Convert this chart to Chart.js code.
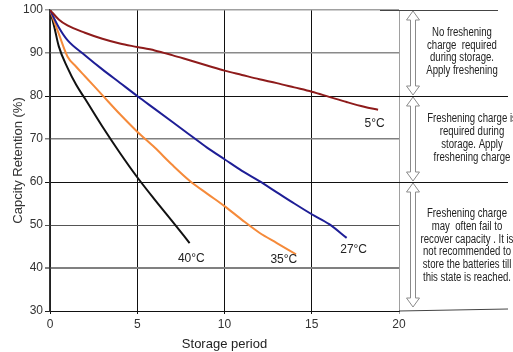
<!DOCTYPE html>
<html>
<head>
<meta charset="utf-8">
<script src="https://cdn.jsdelivr.net/npm/chart.js@4.4.1/dist/chart.umd.min.js"></script>
<style>
  html, body { margin: 0; padding: 0; background: #fff; }
  #wrap { width: 513px; height: 352px; }
</style>
</head>
<body>
<div id="wrap"><canvas id="retention-chart"></canvas></div>
<script>
// Capacity retention vs storage period
// ------------------------------
var seriesNames = ["5°C", "27°C", "35°C", "40°C"];

var days5  = [0, 0.5, 1, 2, 3, 4, 5, 6, 7, 8, 9, 10, 11, 12, 13, 14, 15, 16, 17, 18, 18.8];
var cap5   = [100, 97.8, 96.4, 94.7, 93.3, 92.2, 91.4, 90.6, 89.5, 88.3, 87.1, 85.9, 84.9, 83.9, 83, 82, 81, 79.8, 78.6, 77.5, 76.8];

var days27 = [0, 0.5, 1, 2, 3, 4, 5, 6, 7, 8, 9, 10, 11, 12, 13, 14, 15, 16, 17];
var cap27  = [100, 96, 93, 89.5, 86.2, 83.1, 80, 77, 74, 71, 68, 65.3, 62.6, 60.2, 57.6, 55, 52.5, 50.2, 47];

var days35 = [0, 0.5, 1, 1.5, 2, 3, 4, 5, 6, 7, 8, 9, 10, 11, 12, 13, 14.1];
var cap35  = [100, 94.5, 89.2, 86.8, 84.6, 80.2, 75.8, 71.7, 68, 64, 60.3, 57.3, 54.4, 51.2, 48.2, 45.8, 43.2];

var days40 = [0, 0.25, 0.5, 1, 1.5, 2, 3, 4, 5, 6, 7, 8];
var cap40  = [100, 96, 91.6, 86.6, 82.6, 79.4, 72.9, 66.8, 61.1, 55.9, 50.9, 45.8];

// where the series names sit (data units)
var labelX = [18.6, 17.4, 13.4, 8.1];
var labelY = [73.6, 44.2, 42.0, 42.2];

var seriesColors = ['#8E1B1B', '#1E1E96', '#F58A3A', '#111111'];

var xTicks = [0, 5, 10, 15, 20];
var yTicks = [30, 40, 50, 60, 70, 80, 90, 100];

var zoneNotes = [
    ["No freshening", "charge  required", "during storage.", "Apply freshening"],
    ["Freshening charge is", "required during", "storage. Apply", "freshening charge"],
    ["Freshening charge", "may  often fail to", "recover capacity . It is", "not recommended to", "store the batteries till", "this state is reached."]
];
var zoneLimits = [[100, 80], [80, 60], [60, 30]];

function pairs(xs, ys) {
    return xs.map(function (x, i) { return { x: x, y: ys[i] }; });
}

var allDays = [days5, days27, days35, days40];
var allCaps = [cap5, cap27, cap35, cap40];

var chartData = {
    datasets: seriesNames.map(function (name, i) {
        return {
            label: name,
            data: pairs(allDays[i], allCaps[i]),
            borderColor: seriesColors[i],
            borderWidth: 2,
            pointRadius: 0,
            fill: false,
            cubicInterpolationMode: 'monotone'
        };
    })
};

var gridColorY = { 30: '#222', 40: '#808080', 50: '#555', 60: '#111', 70: '#808080', 80: '#111', 90: '#8a8a8a', 100: '#a0a0a0' };
var gridWidthY = { 40: 2, 70: 1.5, 90: 1.5, 100: 1.5 };

// series name labels + right-hand notes
var notesPlugin = {
    id: 'notes',
    afterDatasetsDraw: function (chart) {
        var c = chart.ctx, xs = chart.scales.x, ys = chart.scales.y, area = chart.chartArea;
        c.save();
        c.fillStyle = '#222';
        c.font = '12px "Liberation Sans", Arial, sans-serif';
        c.textAlign = 'center';
        c.textBaseline = 'middle';
        seriesNames.forEach(function (n, i) {
            c.fillText(n, xs.getPixelForValue(labelX[i]), ys.getPixelForValue(labelY[i]));
        });

        // extension lines to the right
        var r = area.right, far = chart.width - 5;
        c.lineWidth = 1;
        c.strokeStyle = '#111';
        [80, 60].forEach(function (v) {
            var py = Math.round(ys.getPixelForValue(v)) + 0.5;
            c.beginPath(); c.moveTo(r, py); c.lineTo(far, py); c.stroke();
        });
        c.strokeStyle = '#444';
        var top = Math.round(ys.getPixelForValue(100)) + 0.5;
        c.beginPath(); c.moveTo(r - 19, top); c.lineTo(far - 10, top); c.stroke();
        var bot = ys.getPixelForValue(30);
        c.beginPath(); c.moveTo(r, bot); c.lineTo(far, bot - 2); c.stroke();

        // hollow double arrows
        var ax = r + 14;
        c.strokeStyle = '#8a8a8a';
        c.fillStyle = '#fff';
        zoneLimits.forEach(function (z) {
            var y1 = ys.getPixelForValue(z[0]) + 1, y2 = ys.getPixelForValue(z[1]) - 1;
            if (z[1] === 30) y2 -= 3;
            var sw = 2.5, hw = 6.5, hl = 9;
            c.beginPath();
            c.moveTo(ax, y1);
            c.lineTo(ax + hw, y1 + hl);
            c.lineTo(ax + sw, y1 + hl);
            c.lineTo(ax + sw, y2 - hl);
            c.lineTo(ax + hw, y2 - hl);
            c.lineTo(ax, y2);
            c.lineTo(ax - hw, y2 - hl);
            c.lineTo(ax - sw, y2 - hl);
            c.lineTo(ax - sw, y1 + hl);
            c.lineTo(ax - hw, y1 + hl);
            c.closePath();
            c.fill();
            c.stroke();
        });

        // note texts (narrow face, squeezed horizontally)
        c.fillStyle = '#222';
        c.font = '12px "Liberation Sans", Arial, sans-serif';
        var squeeze = 0.8;
        var centers = [r + 63, r + 73, r + 68];
        var firstY = [33, 119, 214];
        var lineH = [12.4, 12.9, 12.7];
        zoneNotes.forEach(function (lines, k) {
            lines.forEach(function (t, j) {
                c.save();
                c.translate(centers[k], firstY[k] + j * lineH[k]);
                c.scale(squeeze, 1);
                c.fillText(t, 0, 0);
                c.restore();
            });
        });
        c.restore();
    }
};

var chartOptions = {
    responsive: true,
    maintainAspectRatio: false,
    animation: false,
    layout: { padding: { top: 10, right: 114, left: 0, bottom: 0 } },
    plugins: { legend: { display: false }, tooltip: { enabled: false } },
    scales: {
        x: {
            type: 'linear',
            min: 0, max: 20,
            afterBuildTicks: function (s) { s.ticks = xTicks.map(function (v) { return { value: v }; }); },
            afterFit: function (s) { s.height = 41; },
            border: { color: '#111', width: 1 },
            grid: {
                color: function (ctx) { return ctx.tick && ctx.tick.value === 20 ? '#a0a0a0' : '#111'; },
                lineWidth: 1,
                tickLength: 3
            },
            ticks: { color: '#333', padding: 3, font: { family: '"Liberation Sans", Arial', size: 12 } },
            title: { display: true, text: 'Storage period', color: '#222', padding: { top: 2, bottom: 0 },
                     font: { family: '"Liberation Sans", Arial', size: 13 } }
        },
        y: {
            min: 30, max: 100,
            afterBuildTicks: function (s) { s.ticks = yTicks.map(function (v) { return { value: v }; }); },
            afterFit: function (s) { s.width = 50; },
            border: { color: '#333', width: 1.5 },
            grid: {
                color: function (ctx) { return gridColorY[ctx.tick.value] || '#777'; },
                lineWidth: function (ctx) { return gridWidthY[ctx.tick.value] || 1; },
                tickLength: 5
            },
            ticks: { color: '#333', padding: 2, font: { family: '"Liberation Sans", Arial', size: 12 } },
            title: { display: true, text: 'Capcity Retention (%)', color: '#333', padding: { top: 11, bottom: 0 },
                     font: { family: '"Liberation Sans", Arial', size: 13 } }
        }
    }
};

var ctx = document.getElementById('retention-chart');
new Chart(ctx, { type: 'line', data: chartData, options: chartOptions, plugins: [notesPlugin] });
</script>
</body>
</html>
